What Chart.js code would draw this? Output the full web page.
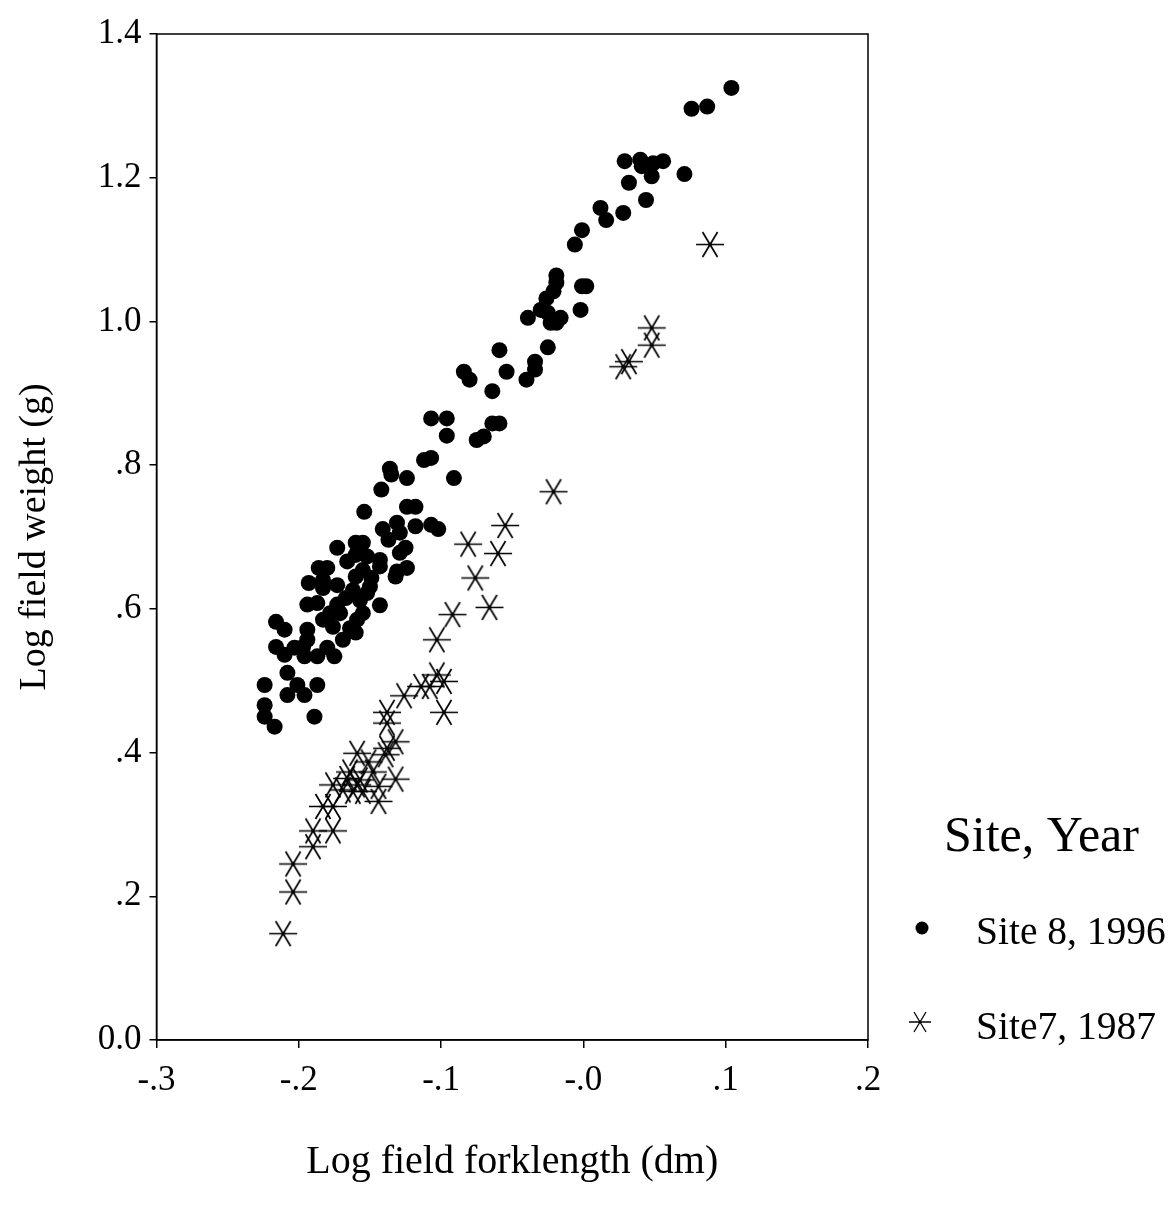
<!DOCTYPE html>
<html>
<head>
<meta charset="utf-8">
<title>Log field weight vs log field forklength</title>
<script src="https://cdn.jsdelivr.net/npm/chart.js@4.4.1/dist/chart.umd.min.js"></script>
<style>
    html, body { margin: 0; padding: 0; background: #ffffff; }
    #wrap { width: 1173px; height: 1208px; }
</style>
</head>
<body>
<div id="wrap"><canvas id="scatter-chart" width="1173" height="1208"></canvas></div>
<script>
// Site 8, 1996 (filled dots): log forklength / log weight
const site8X = [
    0.104, 0.076, 0.087, 0.029, 0.040, 0.041, 0.049, 0.056, 0.048, 0.032,
    0.071, 0.044, 0.012, 0.016, 0.028, -0.001, -0.006, -0.019, -0.019, -0.021,
    -0.026, -0.001, 0.002, -0.030, -0.025, -0.023, -0.016, -0.019, -0.039, -0.002,
    -0.059, -0.025, -0.034, -0.034, -0.040, -0.054, -0.084, -0.080, -0.064, -0.107,
    -0.096, -0.096, -0.064, -0.059, -0.075, -0.070, -0.112, -0.107, -0.124, -0.091,
    -0.136, -0.135, -0.142, -0.154, -0.124, -0.118, -0.141, -0.131, -0.129, -0.118,
    -0.107, -0.102, -0.173, -0.160, -0.155, -0.160, -0.152, -0.143, -0.143, -0.166,
    -0.129, -0.125, -0.131, -0.124, -0.186, -0.180, -0.155, -0.160, -0.193, -0.183,
    -0.183, -0.150, -0.152, -0.162, -0.132, -0.194, -0.187, -0.143, -0.173, -0.178,
    -0.171, -0.155, -0.159, -0.183, -0.176, -0.164, -0.160, -0.169, -0.216, -0.210,
    -0.194, -0.216, -0.210, -0.203, -0.197, -0.194, -0.196, -0.187, -0.180, -0.175,
    -0.208, -0.201, -0.208, -0.196, -0.187, -0.224, -0.224, -0.224, -0.189, -0.217,
    -0.167, -0.157, -0.149, -0.137, -0.173
];
const site8Y = [
    1.325, 1.296, 1.299, 1.223, 1.225, 1.216, 1.220, 1.223, 1.202, 1.193,
    1.205, 1.169, 1.158, 1.141, 1.151, 1.127, 1.107, 1.064, 1.054, 1.042,
    1.032, 1.049, 1.049, 1.016, 1.012, 0.998, 1.005, 0.998, 1.005, 1.016,
    0.960, 0.964, 0.944, 0.933, 0.919, 0.930, 0.930, 0.919, 0.903, 0.865,
    0.865, 0.841, 0.858, 0.858, 0.835, 0.840, 0.807, 0.810, 0.782, 0.782,
    0.795, 0.787, 0.766, 0.735, 0.742, 0.742, 0.711, 0.720, 0.706, 0.715,
    0.717, 0.711, 0.685, 0.692, 0.692, 0.675, 0.673, 0.668, 0.659, 0.666,
    0.678, 0.685, 0.652, 0.657, 0.657, 0.657, 0.654, 0.645, 0.636, 0.640,
    0.629, 0.631, 0.622, 0.626, 0.645, 0.606, 0.608, 0.605, 0.606, 0.594,
    0.594, 0.594, 0.585, 0.585, 0.575, 0.573, 0.567, 0.557, 0.582, 0.571,
    0.571, 0.547, 0.536, 0.546, 0.547, 0.557, 0.534, 0.534, 0.546, 0.534,
    0.511, 0.494, 0.480, 0.480, 0.494, 0.494, 0.466, 0.450, 0.450, 0.436,
    0.615, 0.612, 0.643, 0.696, 0.633
];

// Site7, 1987 (asterisks)
const site7X = [
    0.089, 0.048, 0.048, 0.032, 0.028, -0.021, -0.055, -0.081, -0.060, -0.076,
    -0.066, -0.092, -0.103, -0.103, -0.098, -0.108, -0.114, -0.126, -0.098, -0.138,
    -0.138, -0.132, -0.138, -0.139, -0.159, -0.132, -0.164, -0.166, -0.176, -0.157,
    -0.159, -0.155, -0.162, -0.144, -0.144, -0.183, -0.176, -0.190, -0.176, -0.190,
    -0.204, -0.204, -0.211, -0.151, -0.148, -0.169
];
const site7Y = [
    1.107, 0.991, 0.967, 0.944, 0.937, 0.763, 0.716, 0.690, 0.677, 0.643,
    0.602, 0.592, 0.557, 0.508, 0.499, 0.492, 0.492, 0.479, 0.456, 0.456,
    0.441, 0.415, 0.406, 0.397, 0.399, 0.363, 0.373, 0.364, 0.355, 0.362,
    0.355, 0.346, 0.346, 0.353, 0.332, 0.325, 0.325, 0.291, 0.291, 0.269,
    0.245, 0.206, 0.148, 0.387, 0.373, 0.348
];

const xTicks = [-0.3, -0.2, -0.1, 0, 0.1, 0.2];
const xTickLabels = ['-.3', '-.2', '-.1', '-.0', '.1', '.2'];
const yTicks = [0, 0.2, 0.4, 0.6, 0.8, 1.0, 1.2, 1.4];
const yTickLabels = ['0.0', '.2', '.4', '.6', '.8', '1.0', '1.2', '1.4'];
const seriesLabels = ['Site 8, 1996', 'Site7, 1987'];
const legendTitle = 'Site, Year';
const xTitle = 'Log field forklength (dm)';
const yTitle = 'Log field weight (g)';

const serif = "'Liberation Serif', 'Times New Roman', serif";
const ink = '#000000';

// six-armed asterisk: one horizontal bar and two bars at +-60 degrees
function makeAsterisk(halfW, diagX, diagY, lineW) {
    const c = document.createElement('canvas');
    c.width = Math.ceil(halfW * 2 + 4);
    c.height = Math.ceil(diagY * 2 + 4);
    const g = c.getContext('2d');
    const cx = c.width / 2, cy = c.height / 2;
    g.strokeStyle = ink;
    g.lineWidth = lineW;
    g.lineCap = 'butt';
    g.beginPath();
    g.moveTo(cx - halfW, cy); g.lineTo(cx + halfW, cy);
    g.moveTo(cx - diagX, cy - diagY); g.lineTo(cx + diagX, cy + diagY);
    g.moveTo(cx + diagX, cy - diagY); g.lineTo(cx - diagX, cy + diagY);
    g.stroke();
    g.fillStyle = ink;
    g.beginPath();
    g.arc(cx, cy, lineW, 0, Math.PI * 2);
    g.fill();
    return c;
}

const starMark = makeAsterisk(14, 7.5, 12.5, 1.7);
const starLegend = makeAsterisk(11, 6, 10, 1.3);

function toPoints(xs, ys) {
    return xs.map((x, i) => ({ x: x, y: ys[i] }));
}

// box around the plotting area
const frameBox = {
    id: 'frameBox',
    afterDatasetsDraw(chart) {
        const { ctx, chartArea: a } = chart;
        ctx.save();
        ctx.strokeStyle = ink;
        ctx.lineWidth = 1.5;
        ctx.strokeRect(a.left, a.top, a.right - a.left, a.bottom - a.top);
        ctx.restore();
    }
};

// legend block to the right of the plot
const sideLegend = {
    id: 'sideLegend',
    afterDraw(chart) {
        const ctx = chart.ctx;
        ctx.save();
        ctx.fillStyle = ink;
        ctx.textBaseline = 'middle';
        ctx.textAlign = 'left';
        ctx.font = '50px ' + serif;
        ctx.fillText(legendTitle, 944, 838);

        ctx.font = '39.5px ' + serif;
        ctx.beginPath();
        ctx.arc(922, 928, 6.5, 0, Math.PI * 2);
        ctx.fill();
        ctx.fillText(seriesLabels[0], 976, 934);

        ctx.drawImage(starLegend, 920 - starLegend.width / 2, 1022 - starLegend.height / 2);
        ctx.fillText(seriesLabels[1], 976, 1029);
        ctx.restore();
    }
};

const ctx = document.getElementById('scatter-chart');

new Chart(ctx, {
    type: 'scatter',
    data: {
        datasets: [
            {
                label: seriesLabels[0],
                data: toPoints(site8X, site8Y),
                pointStyle: 'circle',
                pointRadius: 8,
                backgroundColor: ink,
                borderColor: ink,
                borderWidth: 0
            },
            {
                label: seriesLabels[1],
                data: toPoints(site7X, site7Y),
                pointStyle: starMark,
                pointRadius: 14,
                backgroundColor: ink,
                borderColor: ink
            }
        ]
    },
    options: {
        responsive: false,
        animation: false,
        devicePixelRatio: 1,
        layout: {
            padding: { top: 34, right: 305, bottom: 0, left: 0 }
        },
        plugins: {
            legend: { display: false },
            tooltip: { enabled: false }
        },
        scales: {
            x: {
                type: 'linear',
                min: -0.3,
                max: 0.2,
                afterBuildTicks: scale => { scale.ticks = xTicks.map(v => ({ value: v })); },
                afterFit: scale => { scale.height = 168; },
                ticks: {
                    callback: (value, index) => xTickLabels[index],
                    color: ink,
                    font: { family: serif, size: 35 },
                    padding: 12,
                    maxRotation: 0,
                    autoSkip: false
                },
                grid: {
                    display: true,
                    drawOnChartArea: false,
                    drawTicks: true,
                    tickLength: 8,
                    color: ink,
                    lineWidth: 1.5
                },
                border: { display: true, color: ink, width: 1.5 },
                title: {
                    display: true,
                    text: xTitle,
                    color: ink,
                    font: { family: serif, size: 40 },
                    padding: { top: 0, bottom: 22 }
                }
            },
            y: {
                type: 'linear',
                min: 0,
                max: 1.4,
                afterBuildTicks: scale => { scale.ticks = yTicks.map(v => ({ value: v })); },
                afterFit: scale => { scale.width = 156.5; },
                ticks: {
                    callback: (value, index) => yTickLabels[index],
                    color: ink,
                    font: { family: serif, size: 35 },
                    padding: 8,
                    autoSkip: false
                },
                grid: {
                    display: true,
                    drawOnChartArea: false,
                    drawTicks: true,
                    tickLength: 7,
                    color: ink,
                    lineWidth: 1.5
                },
                border: { display: true, color: ink, width: 1.5 },
                title: {
                    display: true,
                    text: yTitle,
                    color: ink,
                    font: { family: serif, size: 38 },
                    padding: { top: 12, bottom: 0 }
                }
            }
        }
    },
    plugins: [frameBox, sideLegend]
});
</script>
</body>
</html>
